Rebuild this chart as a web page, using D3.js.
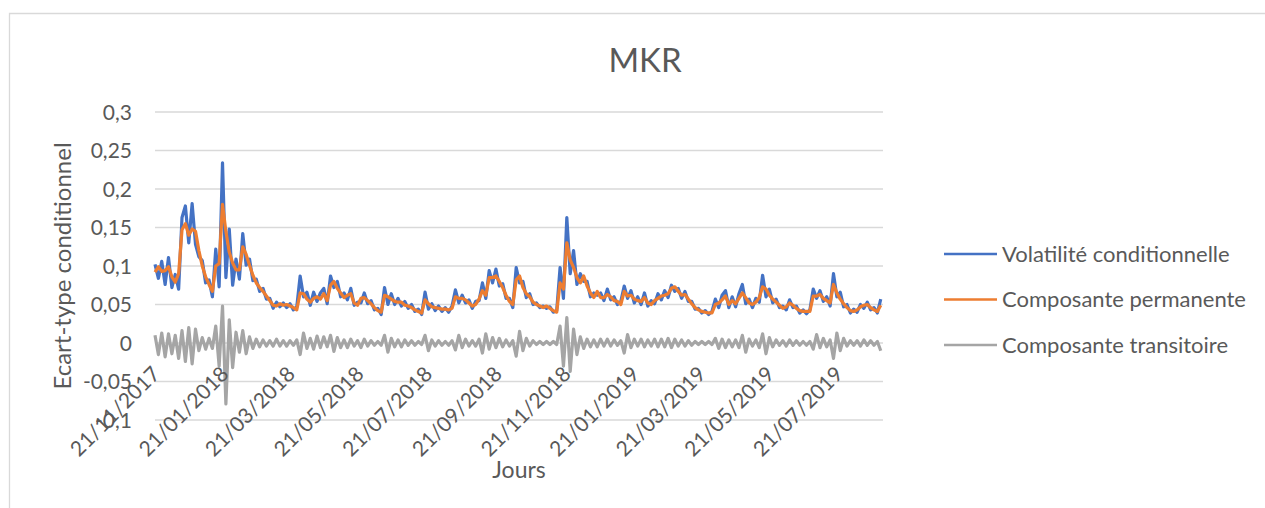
<!DOCTYPE html>
<html>
<head>
<meta charset="utf-8">
<script src="https://cdn.jsdelivr.net/npm/d3@7"></script>
<style>
  body { margin: 0; background: #fff; }
  svg text { font-family: Lato, "Open Sans", sans-serif; fill: #595959; }
</style>
</head>
<body>
<svg id="chart" width="1265" height="508"></svg>
<script>
// daily series sampled every 3 days from 21/11/2017
const startDate = "21/11/2017";
const stepDays = 3;

const volatilite = [
  .102,.084,.106,.076,.111,.072,.089,.070,.163,.178,
  .130,.181,.128,.112,.107,.078,.082,.060,.122,.073,
  .234,.085,.148,.075,.109,.083,.142,.101,.109,.081,
  .083,.067,.071,.057,.058,.045,.053,.047,.052,.046,
  .051,.043,.047,.087,.060,.066,.049,.066,.054,.065,
  .071,.051,.087,.072,.080,.060,.065,.056,.071,.049,
  .053,.052,.065,.051,.055,.043,.045,.037,.072,.050,
  .064,.050,.058,.048,.054,.045,.050,.041,.044,.037,
  .066,.044,.051,.042,.048,.041,.046,.040,.048,.069,
  .052,.062,.052,.056,.045,.054,.055,.078,.058,.094,
  .078,.096,.074,.077,.058,.058,.046,.098,.078,.080,
  .059,.064,.050,.052,.046,.048,.045,.047,.040,.042,
  .098,.058,.163,.090,.120,.076,.090,.080,.080,.060,
  .065,.062,.065,.055,.070,.056,.060,.050,.054,.074,
  .058,.068,.052,.060,.050,.065,.048,.055,.051,.064,
  .056,.068,.059,.075,.067,.071,.058,.067,.054,.054,
  .044,.045,.039,.042,.037,.041,.057,.046,.062,.068,
  .046,.060,.047,.064,.076,.051,.057,.046,.058,.053,
  .088,.060,.070,.052,.057,.046,.048,.043,.056,.046,
  .048,.039,.043,.038,.043,.070,.058,.068,.054,.060,
  .048,.090,.060,.066,.047,.050,.039,.044,.040,.050,
  .045,.053,.043,.046,.039,.057
];

const permanente = [
  .092,.099,.093,.094,.099,.086,.079,.090,.147,.155,
  .140,.148,.145,.120,.100,.086,.076,.067,.100,.103,
  .180,.145,.118,.104,.095,.095,.125,.115,.101,.088,
  .078,.072,.067,.061,.055,.049,.048,.051,.049,.050,
  .048,.046,.043,.065,.064,.057,.053,.058,.060,.057,
  .064,.055,.075,.080,.071,.065,.059,.062,.064,.052,
  .049,.058,.059,.055,.051,.046,.042,.040,.062,.060,
  .057,.054,.053,.053,.049,.048,.046,.043,.041,.039,
  .056,.051,.047,.046,.045,.044,.044,.043,.045,.060,
  .058,.058,.056,.052,.048,.050,.057,.068,.062,.085,
  .085,.087,.080,.072,.062,.054,.050,.082,.087,.072,
  .064,.060,.053,.050,.048,.046,.048,.045,.042,.040,
  .078,.070,.130,.108,.098,.085,.078,.087,.074,.065,
  .059,.067,.059,.059,.063,.060,.055,.054,.050,.067,
  .061,.062,.057,.055,.054,.059,.052,.050,.055,.058,
  .061,.062,.064,.071,.073,.067,.062,.063,.057,.051,
  .046,.043,.041,.040,.039,.039,.050,.052,.056,.061,
  .050,.055,.051,.058,.065,.059,.052,.050,.053,.059,
  .073,.070,.062,.057,.053,.049,.045,.047,.052,.049,
  .045,.042,.041,.041,.041,.061,.061,.063,.058,.055,
  .052,.076,.065,.057,.051,.046,.042,.041,.043,.047,
  .049,.050,.046,.043,.041,.049
];

const transitoire = [
  .010,-.015,.013,-.018,.012,-.014,.010,-.020,.016,-.024,
  .020,-.027,.018,-.010,.007,-.008,.006,-.007,.022,-.030,
  .048,-.079,.030,-.032,.014,-.012,.016,-.014,.008,-.007,
  .005,-.005,.004,-.004,.003,-.004,.005,-.004,.003,-.004,
  .003,-.003,.004,-.015,.013,-.007,.006,-.008,.009,-.006,
  .008,-.005,.010,-.011,.007,-.006,.004,-.006,.005,-.004,
  .003,-.006,.005,-.004,.003,-.003,.002,-.003,.010,-.012,
  .006,-.005,.004,-.005,.004,-.003,.003,-.003,.002,-.002,
  .010,-.010,.004,-.004,.003,-.003,.002,-.003,.003,-.009,
  .010,-.006,.005,-.004,.003,-.004,.005,-.013,.012,-.008,
  .007,-.006,.006,-.005,.004,-.004,.003,-.017,.015,-.010,
  .006,-.004,.003,-.002,.002,-.002,.002,-.002,.002,-.002,
  .022,-.030,.033,-.037,.018,-.015,.008,-.007,.005,-.005,
  .004,-.005,.005,-.004,.005,-.004,.004,-.003,.003,-.013,
  .011,-.006,.005,-.004,.005,-.005,.004,-.004,.005,-.005,
  .005,-.005,.006,-.006,.005,-.004,.004,-.004,.003,-.003,
  .002,-.002,.002,-.002,.002,-.002,.006,-.007,.005,-.006,
  .004,-.005,.004,-.006,.010,-.012,.005,-.004,.004,-.006,
  .012,-.014,.007,-.005,.004,-.003,.003,-.004,.004,-.003,
  .003,-.003,.002,-.003,.002,-.008,.011,-.006,.006,-.005,
  .004,-.020,.013,-.010,.006,-.004,.003,-.003,.003,-.004,
  .004,-.003,.003,-.003,.002,-.010
];

const xTickLabels = ["21/11/2017","21/01/2018","21/03/2018","21/05/2018","21/07/2018",
  "21/09/2018","21/11/2018","21/01/2019","21/03/2019","21/05/2019","21/07/2019"];
const yTicks = [-0.1, -0.05, 0, 0.05, 0.1, 0.15, 0.2, 0.25, 0.3];
const endDate = "30/08/2019";

const seriesNames = ["Volatilité conditionnelle", "Composante permanente", "Composante transitoire"];
const seriesColors = ["#4472C4", "#ED7D31", "#A5A5A5"];

const parse = d3.timeParse("%d/%m/%Y");
const t0 = parse(startDate);
const dates = permanente.map((v, i) => d3.timeDay.offset(t0, i * stepDays));

const svg = d3.select("#chart");

// chart frame
svg.append("path")
  .attr("d", "M9.5,508 V13.5 H1270")
  .attr("fill", "none")
  .attr("stroke", "#D9D9D9")
  .attr("stroke-width", 1.3);

const x = d3.scaleTime()
  .domain([t0, parse(endDate)])
  .range([155, 883]);

const y = d3.scaleLinear()
  .domain([-0.1, 0.3])
  .range([420, 112]);

// gridlines
svg.append("g")
  .selectAll("line")
  .data(yTicks)
  .enter().append("line")
  .attr("x1", 155).attr("x2", 883)
  .attr("y1", d => y(d)).attr("y2", d => y(d))
  .attr("stroke", "#D9D9D9")
  .attr("stroke-width", 1.5);

const fmt = d => String(+d.toFixed(2)).replace(".", ",");

// y tick labels
svg.append("g")
  .selectAll("text")
  .data(yTicks)
  .enter().append("text")
  .attr("x", 132)
  .attr("y", d => y(d))
  .attr("dy", "0.36em")
  .attr("text-anchor", "end")
  .style("font-size", "21px")
  .text(fmt);

// series lines
const series = [volatilite, permanente, transitoire];
series.forEach((vals, k) => {
  const line = d3.line()
    .x((d, i) => x(dates[i]))
    .y(d => y(d));
  svg.append("path")
    .datum(vals)
    .attr("fill", "none")
    .attr("stroke", seriesColors[k])
    .attr("stroke-width", 3.2)
    .attr("stroke-linejoin", "round")
    .attr("d", line);
});

// x tick labels, rotated
svg.append("g")
  .selectAll("text")
  .data(xTickLabels)
  .enter().append("text")
  .attr("transform", d => `translate(${x(parse(d)) + 1},370) rotate(-45)`)
  .attr("text-anchor", "end")
  .attr("dy", "0.36em")
  .style("font-size", "21px")
  .text(d => d);

// titles
svg.append("text")
  .attr("x", 645).attr("y", 60)
  .attr("dy", "0.36em")
  .attr("text-anchor", "middle")
  .style("font-size", "33px")
  .text("MKR");

svg.append("text")
  .attr("transform", "translate(62,266) rotate(-90)")
  .attr("dy", "0.36em")
  .attr("text-anchor", "middle")
  .style("font-size", "24px")
  .text("Ecart-type conditionnel");

svg.append("text")
  .attr("x", 519).attr("y", 470)
  .attr("dy", "0.36em")
  .attr("text-anchor", "middle")
  .style("font-size", "23px")
  .text("Jours");

// legend
const legend = svg.append("g")
  .selectAll("g")
  .data(seriesNames)
  .enter().append("g")
  .attr("transform", (d, i) => `translate(944,${254 + i * 45.5})`);

legend.append("line")
  .attr("x1", 0).attr("x2", 53)
  .attr("stroke", (d, i) => seriesColors[i])
  .attr("stroke-width", 2.6);

legend.append("text")
  .attr("x", 58)
  .attr("dy", "0.36em")
  .style("font-size", "22px")
  .text(d => d);
</script>
</body>
</html>
